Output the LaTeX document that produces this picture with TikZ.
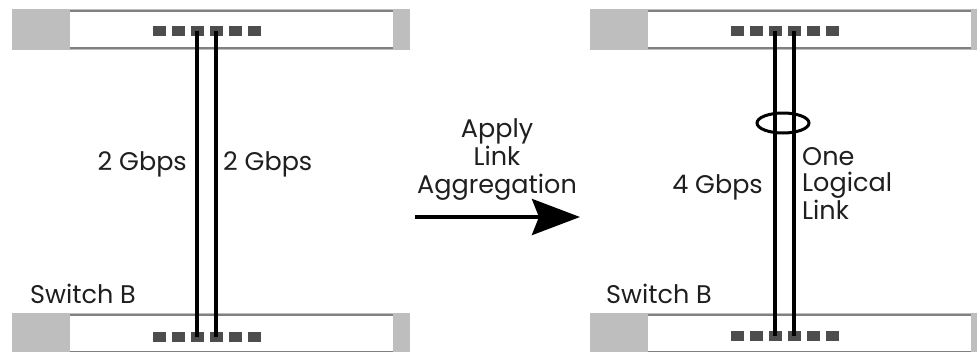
\documentclass[tikz,border=0pt]{standalone}
\usepackage{fontspec}
\setmainfont{Poppins}
\usetikzlibrary{arrows.meta}
\definecolor{caseGray}{HTML}{BEBEBE}
\definecolor{rimGray}{HTML}{808080}
\definecolor{portGray}{HTML}{4D4D4D}
\begin{document}
\begin{tikzpicture}[x=1pt, y=-1pt,
  case/.style={fill=caseGray, minimum width=398pt, minimum height=41pt, inner sep=0pt},
  face/.style={fill=white, minimum width=323pt, minimum height=37pt, inner sep=0pt},
  rim/.style={draw=rimGray, line width=2.4pt},
  port/.style={fill=portGray, minimum width=13pt, minimum height=9.5pt, inner sep=0pt},
  wire/.style={line width=3.2pt},
  lbl/.style={font=\fontsize{25.5}{28}\selectfont, text=black!88, inner sep=0pt},
  bigarr/.style={line width=4pt, -{Stealth[length=48pt, width=36pt, inset=7pt]}}
]
\clip (0,0) rectangle (977,351);
\fill[white] (0,0) rectangle (977,351);
\foreach \sw/\cx/\cy/\py in {lt/211/29.5/31, lb/211/333.5/337, rt/789/29.5/31, rb/789/333.5/336}{
  \node[case] (c\sw) at (\cx,\cy) {};
  \node[face] (f\sw) at (\cx+20.5,\cy) {};
  \draw[rim] (f\sw.north west) -- (f\sw.north east);
  \draw[rim] (f\sw.south west) -- (f\sw.south east);
  \foreach \k in {1,...,6}
    \node[port] (\sw\k) at (\cx-52+19*\k-19,\py) {};
}
\draw[wire] (lt3.center) -- (lb3.center);
\draw[wire] (lt4.center) -- (lb4.center);
\draw[wire] (rt3.center) -- (rb3.center);
\draw[wire] (rt4.center) -- (rb4.center);
\draw[line width=3pt] (783,123) ellipse [x radius=26, y radius=10];
\node[lbl, anchor=base east] (bwL) at (187,170) {2 Gbps};
\node[lbl, anchor=base west] (bwR) at (223,170) {2 Gbps};
\node[lbl, anchor=base east] (bwAgg) at (763,193) {4 Gbps};
\node[lbl, anchor=base west, align=left, font=\fontsize{25.5}{26}\selectfont] (logic) at (802,219) {One\\Logical\\Link};
\node[lbl, anchor=base, align=center] (apply) at (497,193) {Apply\\Link\\Aggregation};
\node[lbl, anchor=base west] (swBL) at (30,303) {Switch B};
\node[lbl, anchor=base west] (swBR) at (606,303) {Switch B};
\coordinate (arrS) at (415,217);
\coordinate (arrE) at (580,217);
\draw[bigarr] (arrS) -- (arrE);
\end{tikzpicture}
\end{document}
